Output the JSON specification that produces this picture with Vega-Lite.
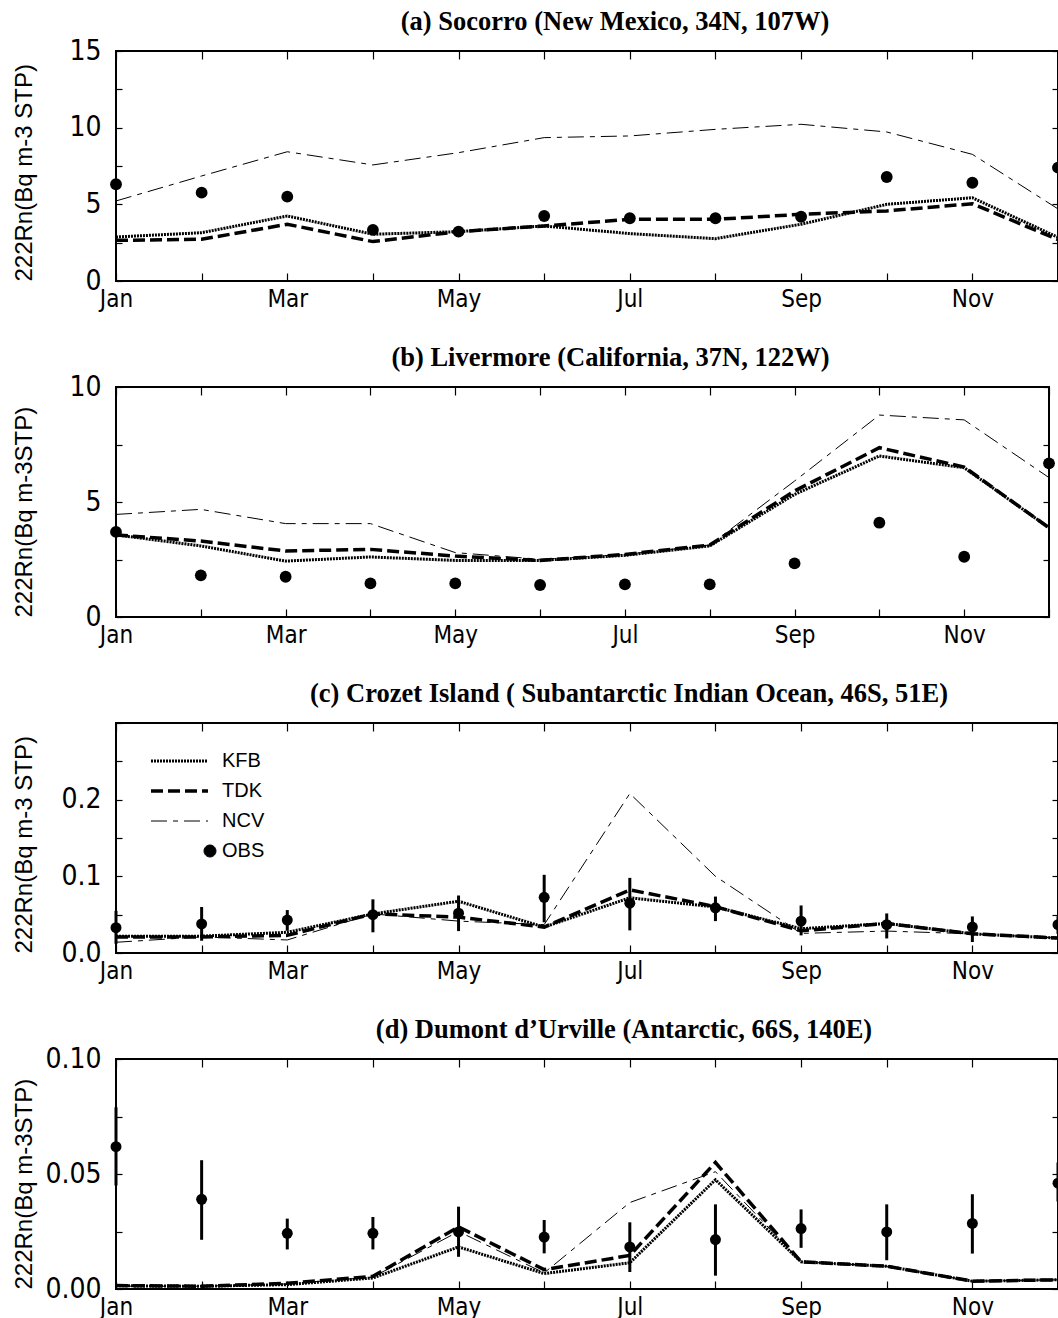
{
  "$schema": "https://vega.github.io/schema/vega-lite/v6.json",
  "background": "white",
  "padding": {"left": 11, "top": 7, "right": 0, "bottom": 0},
  "spacing": 31,
  "resolve": {
    "scale": {"shape": "independent", "strokeDash": "independent", "strokeWidth": "independent"},
    "legend": {"shape": "independent", "strokeDash": "independent", "strokeWidth": "independent"}
  },
  "datasets": {
    "d": [
      {"panel":"a","series":"KFB","month":1,"value":2.87},{"panel":"a","series":"KFB","month":2,"value":3.15},{"panel":"a","series":"KFB","month":3,"value":4.24},{"panel":"a","series":"KFB","month":4,"value":3.05},{"panel":"a","series":"KFB","month":5,"value":3.22},{"panel":"a","series":"KFB","month":6,"value":3.59},{"panel":"a","series":"KFB","month":7,"value":3.09},{"panel":"a","series":"KFB","month":8,"value":2.76},{"panel":"a","series":"KFB","month":9,"value":3.7},{"panel":"a","series":"KFB","month":10,"value":5.0},{"panel":"a","series":"KFB","month":11,"value":5.43},{"panel":"a","series":"KFB","month":12,"value":2.85},
      {"panel":"a","series":"TDK","month":1,"value":2.65},{"panel":"a","series":"TDK","month":2,"value":2.72},{"panel":"a","series":"TDK","month":3,"value":3.7},{"panel":"a","series":"TDK","month":4,"value":2.57},{"panel":"a","series":"TDK","month":5,"value":3.22},{"panel":"a","series":"TDK","month":6,"value":3.59},{"panel":"a","series":"TDK","month":7,"value":4.02},{"panel":"a","series":"TDK","month":8,"value":4.02},{"panel":"a","series":"TDK","month":9,"value":4.35},{"panel":"a","series":"TDK","month":10,"value":4.57},{"panel":"a","series":"TDK","month":11,"value":5.04},{"panel":"a","series":"TDK","month":12,"value":2.7},
      {"panel":"a","series":"NCV","month":1,"value":5.22},{"panel":"a","series":"NCV","month":2,"value":6.85},{"panel":"a","series":"NCV","month":3,"value":8.43},{"panel":"a","series":"NCV","month":4,"value":7.57},{"panel":"a","series":"NCV","month":5,"value":8.37},{"panel":"a","series":"NCV","month":6,"value":9.35},{"panel":"a","series":"NCV","month":7,"value":9.46},{"panel":"a","series":"NCV","month":8,"value":9.89},{"panel":"a","series":"NCV","month":9,"value":10.22},{"panel":"a","series":"NCV","month":10,"value":9.72},{"panel":"a","series":"NCV","month":11,"value":8.26},{"panel":"a","series":"NCV","month":12,"value":4.7},
      {"panel":"a","series":"OBS","month":1,"value":6.31},{"panel":"a","series":"OBS","month":2,"value":5.76},{"panel":"a","series":"OBS","month":3,"value":5.5},{"panel":"a","series":"OBS","month":4,"value":3.33},{"panel":"a","series":"OBS","month":5,"value":3.22},{"panel":"a","series":"OBS","month":6,"value":4.24},{"panel":"a","series":"OBS","month":7,"value":4.09},{"panel":"a","series":"OBS","month":8,"value":4.09},{"panel":"a","series":"OBS","month":9,"value":4.19},{"panel":"a","series":"OBS","month":10,"value":6.78},{"panel":"a","series":"OBS","month":11,"value":6.41},{"panel":"a","series":"OBS","month":12,"value":7.39},

      {"panel":"b","series":"KFB","month":1,"value":3.57},{"panel":"b","series":"KFB","month":2,"value":3.09},{"panel":"b","series":"KFB","month":3,"value":2.43},{"panel":"b","series":"KFB","month":4,"value":2.61},{"panel":"b","series":"KFB","month":5,"value":2.46},{"panel":"b","series":"KFB","month":6,"value":2.46},{"panel":"b","series":"KFB","month":7,"value":2.68},{"panel":"b","series":"KFB","month":8,"value":3.09},{"panel":"b","series":"KFB","month":9,"value":5.33},{"panel":"b","series":"KFB","month":10,"value":7.0},{"panel":"b","series":"KFB","month":11,"value":6.49},{"panel":"b","series":"KFB","month":12,"value":3.88},
      {"panel":"b","series":"TDK","month":1,"value":3.57},{"panel":"b","series":"TDK","month":2,"value":3.3},{"panel":"b","series":"TDK","month":3,"value":2.87},{"panel":"b","series":"TDK","month":4,"value":2.94},{"panel":"b","series":"TDK","month":5,"value":2.65},{"panel":"b","series":"TDK","month":6,"value":2.46},{"panel":"b","series":"TDK","month":7,"value":2.72},{"panel":"b","series":"TDK","month":8,"value":3.13},{"panel":"b","series":"TDK","month":9,"value":5.48},{"panel":"b","series":"TDK","month":10,"value":7.36},{"panel":"b","series":"TDK","month":11,"value":6.52},{"panel":"b","series":"TDK","month":12,"value":3.88},
      {"panel":"b","series":"NCV","month":1,"value":4.46},{"panel":"b","series":"NCV","month":2,"value":4.68},{"panel":"b","series":"NCV","month":3,"value":4.06},{"panel":"b","series":"NCV","month":4,"value":4.06},{"panel":"b","series":"NCV","month":5,"value":2.8},{"panel":"b","series":"NCV","month":6,"value":2.51},{"panel":"b","series":"NCV","month":7,"value":2.72},{"panel":"b","series":"NCV","month":8,"value":3.13},{"panel":"b","series":"NCV","month":9,"value":5.91},{"panel":"b","series":"NCV","month":10,"value":8.78},{"panel":"b","series":"NCV","month":11,"value":8.57},{"panel":"b","series":"NCV","month":12,"value":6.06},
      {"panel":"b","series":"OBS","month":1,"value":3.7},{"panel":"b","series":"OBS","month":2,"value":1.81},{"panel":"b","series":"OBS","month":3,"value":1.75},{"panel":"b","series":"OBS","month":4,"value":1.46},{"panel":"b","series":"OBS","month":5,"value":1.46},{"panel":"b","series":"OBS","month":6,"value":1.39},{"panel":"b","series":"OBS","month":7,"value":1.42},{"panel":"b","series":"OBS","month":8,"value":1.42},{"panel":"b","series":"OBS","month":9,"value":2.33},{"panel":"b","series":"OBS","month":10,"value":4.1},{"panel":"b","series":"OBS","month":11,"value":2.62},{"panel":"b","series":"OBS","month":12,"value":6.68},

      {"panel":"c","series":"KFB","month":1,"value":0.022},{"panel":"c","series":"KFB","month":2,"value":0.022},{"panel":"c","series":"KFB","month":3,"value":0.027},{"panel":"c","series":"KFB","month":4,"value":0.051},{"panel":"c","series":"KFB","month":5,"value":0.0675},{"panel":"c","series":"KFB","month":6,"value":0.0338},{"panel":"c","series":"KFB","month":7,"value":0.072},{"panel":"c","series":"KFB","month":8,"value":0.06},{"panel":"c","series":"KFB","month":9,"value":0.0317},{"panel":"c","series":"KFB","month":10,"value":0.0385},{"panel":"c","series":"KFB","month":11,"value":0.025},{"panel":"c","series":"KFB","month":12,"value":0.0195},
      {"panel":"c","series":"TDK","month":1,"value":0.021},{"panel":"c","series":"TDK","month":2,"value":0.021},{"panel":"c","series":"TDK","month":3,"value":0.023},{"panel":"c","series":"TDK","month":4,"value":0.051},{"panel":"c","series":"TDK","month":5,"value":0.0468},{"panel":"c","series":"TDK","month":6,"value":0.0338},{"panel":"c","series":"TDK","month":7,"value":0.0823},{"panel":"c","series":"TDK","month":8,"value":0.0605},{"panel":"c","series":"TDK","month":9,"value":0.029},{"panel":"c","series":"TDK","month":10,"value":0.0385},{"panel":"c","series":"TDK","month":11,"value":0.025},{"panel":"c","series":"TDK","month":12,"value":0.0195},
      {"panel":"c","series":"NCV","month":1,"value":0.014},{"panel":"c","series":"NCV","month":2,"value":0.021},{"panel":"c","series":"NCV","month":3,"value":0.017},{"panel":"c","series":"NCV","month":4,"value":0.051},{"panel":"c","series":"NCV","month":5,"value":0.0416},{"panel":"c","series":"NCV","month":6,"value":0.037},{"panel":"c","series":"NCV","month":7,"value":0.208},{"panel":"c","series":"NCV","month":8,"value":0.1},{"panel":"c","series":"NCV","month":9,"value":0.0256},{"panel":"c","series":"NCV","month":10,"value":0.0286},{"panel":"c","series":"NCV","month":11,"value":0.025},{"panel":"c","series":"NCV","month":12,"value":0.0195},
      {"panel":"c","series":"OBS","month":1,"value":0.033,"lo":0.012,"hi":0.055},{"panel":"c","series":"OBS","month":2,"value":0.038,"lo":0.016,"hi":0.06},{"panel":"c","series":"OBS","month":3,"value":0.043,"lo":0.029,"hi":0.056},{"panel":"c","series":"OBS","month":4,"value":0.05,"lo":0.027,"hi":0.07},{"panel":"c","series":"OBS","month":5,"value":0.052,"lo":0.0286,"hi":0.075},{"panel":"c","series":"OBS","month":6,"value":0.0727,"lo":0.04,"hi":0.102},{"panel":"c","series":"OBS","month":7,"value":0.065,"lo":0.0295,"hi":0.098},{"panel":"c","series":"OBS","month":8,"value":0.059,"lo":0.0416,"hi":0.0736},{"panel":"c","series":"OBS","month":9,"value":0.0416,"lo":0.023,"hi":0.062},{"panel":"c","series":"OBS","month":10,"value":0.0369,"lo":0.019,"hi":0.0516},{"panel":"c","series":"OBS","month":11,"value":0.0338,"lo":0.0143,"hi":0.0477},{"panel":"c","series":"OBS","month":12,"value":0.0369,"lo":0.025,"hi":0.048},

      {"panel":"d","series":"KFB","month":1,"value":0.0014},{"panel":"d","series":"KFB","month":2,"value":0.0012},{"panel":"d","series":"KFB","month":3,"value":0.0019},{"panel":"d","series":"KFB","month":4,"value":0.0048},{"panel":"d","series":"KFB","month":5,"value":0.0183},{"panel":"d","series":"KFB","month":6,"value":0.0067},{"panel":"d","series":"KFB","month":7,"value":0.0114},{"panel":"d","series":"KFB","month":8,"value":0.0475},{"panel":"d","series":"KFB","month":9,"value":0.0118},{"panel":"d","series":"KFB","month":10,"value":0.0099},{"panel":"d","series":"KFB","month":11,"value":0.0034},{"panel":"d","series":"KFB","month":12,"value":0.004},
      {"panel":"d","series":"TDK","month":1,"value":0.0015},{"panel":"d","series":"TDK","month":2,"value":0.0012},{"panel":"d","series":"TDK","month":3,"value":0.0025},{"panel":"d","series":"TDK","month":4,"value":0.0055},{"panel":"d","series":"TDK","month":5,"value":0.027},{"panel":"d","series":"TDK","month":6,"value":0.0084},{"panel":"d","series":"TDK","month":7,"value":0.0146},{"panel":"d","series":"TDK","month":8,"value":0.055},{"panel":"d","series":"TDK","month":9,"value":0.0118},{"panel":"d","series":"TDK","month":10,"value":0.0099},{"panel":"d","series":"TDK","month":11,"value":0.0034},{"panel":"d","series":"TDK","month":12,"value":0.004},
      {"panel":"d","series":"NCV","month":1,"value":0.0012},{"panel":"d","series":"NCV","month":2,"value":0.0012},{"panel":"d","series":"NCV","month":3,"value":0.0022},{"panel":"d","series":"NCV","month":4,"value":0.0052},{"panel":"d","series":"NCV","month":5,"value":0.025},{"panel":"d","series":"NCV","month":6,"value":0.007},{"panel":"d","series":"NCV","month":7,"value":0.0376},{"panel":"d","series":"NCV","month":8,"value":0.051},{"panel":"d","series":"NCV","month":9,"value":0.0118},{"panel":"d","series":"NCV","month":10,"value":0.0099},{"panel":"d","series":"NCV","month":11,"value":0.0034},{"panel":"d","series":"NCV","month":12,"value":0.004},
      {"panel":"d","series":"OBS","month":1,"value":0.0619,"lo":0.045,"hi":0.079},{"panel":"d","series":"OBS","month":2,"value":0.039,"lo":0.0214,"hi":0.056},{"panel":"d","series":"OBS","month":3,"value":0.0242,"lo":0.0172,"hi":0.0306},{"panel":"d","series":"OBS","month":4,"value":0.0242,"lo":0.0172,"hi":0.0313},{"panel":"d","series":"OBS","month":5,"value":0.0248,"lo":0.014,"hi":0.0358},{"panel":"d","series":"OBS","month":6,"value":0.0226,"lo":0.0155,"hi":0.03},{"panel":"d","series":"OBS","month":7,"value":0.0183,"lo":0.0074,"hi":0.029},{"panel":"d","series":"OBS","month":8,"value":0.0215,"lo":0.0058,"hi":0.0368},{"panel":"d","series":"OBS","month":9,"value":0.0263,"lo":0.0179,"hi":0.0346},{"panel":"d","series":"OBS","month":10,"value":0.0248,"lo":0.0125,"hi":0.0368},{"panel":"d","series":"OBS","month":11,"value":0.0285,"lo":0.0154,"hi":0.0412},{"panel":"d","series":"OBS","month":12,"value":0.046,"lo":0.038,"hi":0.055}
    ]
  },
  "config": {
    "view": {"stroke": "black", "strokeWidth": 2},
    "axis": {"domain": false, "grid": false, "tickColor": "black", "tickWidth": 1.2, "labelColor": "black", "labelFont": "DejaVu Sans Condensed, Liberation Sans", "titleFont": "Liberation Sans", "titleFontWeight": "normal", "titleColor": "black", "titleFontSize": 24, "labelFlush": false, "labelOverlap": false},
    "axisX": {"labelFontSize": 24, "labelPadding": 14, "tickSize": -8},
    "axisY": {"labelFontSize": 28, "labelPadding": 21, "tickSize": -6},
    "title": {"font": "Liberation Serif", "fontSize": 26.5, "fontWeight": "bold", "color": "black", "offset": 2}
  },
  "vconcat": [
    {
      "width": 942, "height": 230,
      "title": {"text": "(a) Socorro (New Mexico, 34N, 107W)", "dx": 28},
      "layer": [
        {"data": {"name": "d"}, "transform": [{"filter": "datum.panel == 'a' && datum.series == 'NCV'"}],
         "mark": {"type": "line", "color": "black", "strokeWidth": 1, "strokeDash": [16, 6, 5, 6], "clip": true},
         "encoding": {
           "x": {"field": "month", "type": "quantitative", "scale": {"domain": [1, 12], "nice": false},
                 "axis": {"orient": "bottom", "title": null, "values": [1,2,3,4,5,6,7,8,9,10,11,12], "labelExpr": "['Jan','','Mar','','May','','Jul','','Sep','','Nov',''][datum.value-1]"}},
           "y": {"field": "value", "type": "quantitative", "scale": {"domain": [0, 15], "nice": false},
                 "axis": {"orient": "left", "title": "222Rn(Bq m-3 STP)", "titleX": -80, "titleAnchor": "start", "values": [0, 2.5, 5, 7.5, 10, 12.5, 15], "labelExpr": "datum.value % 5 == 0 ? datum.label : ''"}}
         }},
        {"data": {"name": "d"}, "transform": [{"filter": "datum.panel == 'a' && datum.series == 'TDK'"}],
         "mark": {"type": "line", "color": "black", "strokeWidth": 3.5, "strokeDash": [12, 5], "clip": true},
         "encoding": {"x": {"field": "month", "type": "quantitative", "axis": null}, "y": {"field": "value", "type": "quantitative", "axis": null}}},
        {"data": {"name": "d"}, "transform": [{"filter": "datum.panel == 'a' && datum.series == 'KFB'"}],
         "mark": {"type": "line", "color": "black", "strokeWidth": 3, "strokeDash": [2, 1], "clip": true},
         "encoding": {"x": {"field": "month", "type": "quantitative", "axis": null}, "y": {"field": "value", "type": "quantitative", "axis": null}}},
        {"data": {"name": "d"}, "transform": [{"filter": "datum.panel == 'a' && datum.series == 'OBS' && datum.month < 12"}],
         "mark": {"type": "point", "filled": true, "color": "black", "opacity": 1, "size": 140},
         "encoding": {
           "x": {"field": "month", "type": "quantitative", "axis": {"orient": "top", "title": null, "labels": false, "values": [1,2,3,4,5,6,7,8,9,10,11,12]}},
           "y": {"field": "value", "type": "quantitative", "axis": {"orient": "right", "title": null, "labels": false, "values": [0, 2.5, 5, 7.5, 10, 12.5, 15]}}
         }},
        {"data": {"name": "d"}, "transform": [{"filter": "datum.panel == 'a' && datum.series == 'OBS' && datum.month == 12"}],
         "mark": {"type": "point", "filled": true, "color": "black", "opacity": 1, "size": 140, "clip": true},
         "encoding": {"x": {"field": "month", "type": "quantitative", "axis": null}, "y": {"field": "value", "type": "quantitative", "axis": null}}}
      ]
    },
    {
      "width": 933, "height": 230,
      "title": {"text": "(b) Livermore (California, 37N, 122W)", "dx": 28},
      "layer": [
        {"data": {"name": "d"}, "transform": [{"filter": "datum.panel == 'b' && datum.series == 'NCV'"}],
         "mark": {"type": "line", "color": "black", "strokeWidth": 1, "strokeDash": [16, 6, 5, 6], "clip": true},
         "encoding": {
           "x": {"field": "month", "type": "quantitative", "scale": {"domain": [1, 12], "nice": false},
                 "axis": {"orient": "bottom", "title": null, "values": [1,2,3,4,5,6,7,8,9,10,11,12], "labelExpr": "['Jan','','Mar','','May','','Jul','','Sep','','Nov',''][datum.value-1]"}},
           "y": {"field": "value", "type": "quantitative", "scale": {"domain": [0, 10], "nice": false},
                 "axis": {"orient": "left", "title": "222Rn(Bq m-3STP)", "titleX": -80, "titleAnchor": "start", "values": [0, 2.5, 5, 7.5, 10], "labelExpr": "datum.value % 5 == 0 ? datum.label : ''"}}
         }},
        {"data": {"name": "d"}, "transform": [{"filter": "datum.panel == 'b' && datum.series == 'TDK'"}],
         "mark": {"type": "line", "color": "black", "strokeWidth": 3.5, "strokeDash": [12, 5], "clip": true},
         "encoding": {"x": {"field": "month", "type": "quantitative", "axis": null}, "y": {"field": "value", "type": "quantitative", "axis": null}}},
        {"data": {"name": "d"}, "transform": [{"filter": "datum.panel == 'b' && datum.series == 'KFB'"}],
         "mark": {"type": "line", "color": "black", "strokeWidth": 3, "strokeDash": [2, 1], "clip": true},
         "encoding": {"x": {"field": "month", "type": "quantitative", "axis": null}, "y": {"field": "value", "type": "quantitative", "axis": null}}},
        {"data": {"name": "d"}, "transform": [{"filter": "datum.panel == 'b' && datum.series == 'OBS'"}],
         "mark": {"type": "point", "filled": true, "color": "black", "opacity": 1, "size": 140},
         "encoding": {
           "x": {"field": "month", "type": "quantitative", "axis": {"orient": "top", "title": null, "labels": false, "values": [1,2,3,4,5,6,7,8,9,10,11,12]}},
           "y": {"field": "value", "type": "quantitative", "axis": {"orient": "right", "title": null, "labels": false, "values": [0, 2.5, 5, 7.5, 10]}}
         }}
      ]
    },
    {
      "width": 942, "height": 230,
      "title": {"text": "(c) Crozet Island ( Subantarctic Indian Ocean, 46S, 51E)", "dx": 42},
      "layer": [
        {"data": {"name": "d"}, "transform": [{"filter": "datum.panel == 'c' && datum.series == 'NCV'"}],
         "mark": {"type": "line", "color": "black", "strokeWidth": 1, "strokeDash": [16, 6, 5, 6], "clip": true},
         "encoding": {
           "x": {"field": "month", "type": "quantitative", "scale": {"domain": [1, 12], "nice": false},
                 "axis": {"orient": "bottom", "title": null, "values": [1,2,3,4,5,6,7,8,9,10,11,12], "labelExpr": "['Jan','','Mar','','May','','Jul','','Sep','','Nov',''][datum.value-1]"}},
           "y": {"field": "value", "type": "quantitative", "scale": {"domain": [0, 0.3], "nice": false},
                 "axis": {"orient": "left", "title": "222Rn(Bq m-3 STP)", "titleX": -80, "titleAnchor": "start", "format": ".1f", "values": [0, 0.05, 0.1, 0.15, 0.2, 0.25, 0.3], "labelExpr": "round(datum.value * 100) % 10 == 0 && datum.value < 0.29 ? datum.label : ''"}}
         }},
        {"data": {"name": "d"}, "transform": [{"filter": "datum.panel == 'c' && datum.series == 'TDK'"}],
         "mark": {"type": "line", "color": "black", "strokeWidth": 3.5, "strokeDash": [12, 5], "clip": true},
         "encoding": {"x": {"field": "month", "type": "quantitative", "axis": null}, "y": {"field": "value", "type": "quantitative", "axis": null}}},
        {"data": {"name": "d"}, "transform": [{"filter": "datum.panel == 'c' && datum.series == 'KFB'"}],
         "mark": {"type": "line", "color": "black", "strokeWidth": 3, "strokeDash": [2, 1], "clip": true},
         "encoding": {"x": {"field": "month", "type": "quantitative", "axis": null}, "y": {"field": "value", "type": "quantitative", "axis": null}}},
        {"data": {"name": "d"}, "transform": [{"filter": "datum.panel == 'c' && datum.series == 'OBS'"}],
         "mark": {"type": "rule", "color": "black", "strokeWidth": 3},
         "encoding": {"x": {"field": "month", "type": "quantitative", "axis": null}, "y": {"field": "lo", "type": "quantitative", "axis": null}, "y2": {"field": "hi"}}},
        {"data": {"name": "d"}, "transform": [{"filter": "datum.panel == 'c' && datum.series == 'OBS' && datum.month < 12"}],
         "mark": {"type": "point", "filled": true, "color": "black", "opacity": 1, "size": 120},
         "encoding": {
           "x": {"field": "month", "type": "quantitative", "axis": {"orient": "top", "title": null, "labels": false, "values": [1,2,3,4,5,6,7,8,9,10,11,12]}},
           "y": {"field": "value", "type": "quantitative", "axis": {"orient": "right", "title": null, "labels": false, "values": [0, 0.05, 0.1, 0.15, 0.2, 0.25, 0.3]}}
         }},
        {"data": {"name": "d"}, "transform": [{"filter": "datum.panel == 'c' && datum.series == 'OBS' && datum.month == 12"}],
         "mark": {"type": "point", "filled": true, "color": "black", "opacity": 1, "size": 120, "clip": true},
         "encoding": {"x": {"field": "month", "type": "quantitative", "axis": null}, "y": {"field": "value", "type": "quantitative", "axis": null}}},
        {"data": {"values": [{"series": "KFB"}, {"series": "TDK"}, {"series": "NCV"}, {"series": "OBS"}]},
         "mark": {"type": "point", "filled": true, "fill": "black", "stroke": "black", "opacity": 0, "size": 3249, "clip": true},
         "encoding": {
           "shape": {"field": "series", "type": "nominal",
                     "scale": {"domain": ["KFB", "TDK", "NCV", "OBS"], "range": ["M-1,0L1,0", "M-1,0L1,0", "M-1,0L1,0", "M0.86,0A0.21,0.21 0 1,1 1.28,0A0.21,0.21 0 1,1 0.86,0Z"]},
                     "legend": {"title": null, "orient": "none", "legendX": 33, "legendY": 26, "symbolSize": 3249, "clipHeight": 24, "rowPadding": 6, "labelFont": "Liberation Sans", "labelFontSize": 20, "labelOffset": 12, "labelColor": "black",
                                "encode": {"symbols": {"update": {"fill": {"value": "black"}, "stroke": {"value": "black"}, "opacity": {"value": 1}}}}}},
           "strokeDash": {"field": "series", "type": "nominal", "scale": {"domain": ["KFB", "TDK", "NCV", "OBS"], "range": [[2, 1], [12, 5], [16, 6, 5, 6], [1, 0]]}},
           "strokeWidth": {"field": "series", "type": "nominal", "scale": {"type": "ordinal", "domain": ["KFB", "TDK", "NCV", "OBS"], "range": [3, 3.5, 1, 1]}}
         }}
      ]
    },
    {
      "width": 942, "height": 230,
      "title": {"text": "(d) Dumont d’Urville (Antarctic, 66S, 140E)", "dx": 37},
      "layer": [
        {"data": {"name": "d"}, "transform": [{"filter": "datum.panel == 'd' && datum.series == 'NCV'"}],
         "mark": {"type": "line", "color": "black", "strokeWidth": 1, "strokeDash": [16, 6, 5, 6], "clip": true},
         "encoding": {
           "x": {"field": "month", "type": "quantitative", "scale": {"domain": [1, 12], "nice": false},
                 "axis": {"orient": "bottom", "title": null, "values": [1,2,3,4,5,6,7,8,9,10,11,12], "labelExpr": "['Jan','','Mar','','May','','Jul','','Sep','','Nov',''][datum.value-1]"}},
           "y": {"field": "value", "type": "quantitative", "scale": {"domain": [0, 0.1], "nice": false},
                 "axis": {"orient": "left", "title": "222Rn(Bq m-3STP)", "titleX": -80, "titleAnchor": "start", "format": ".2f", "values": [0, 0.025, 0.05, 0.075, 0.1], "labelExpr": "round(datum.value * 1000) % 50 == 0 ? datum.label : ''"}}
         }},
        {"data": {"name": "d"}, "transform": [{"filter": "datum.panel == 'd' && datum.series == 'TDK'"}],
         "mark": {"type": "line", "color": "black", "strokeWidth": 3.5, "strokeDash": [12, 5], "clip": true},
         "encoding": {"x": {"field": "month", "type": "quantitative", "axis": null}, "y": {"field": "value", "type": "quantitative", "axis": null}}},
        {"data": {"name": "d"}, "transform": [{"filter": "datum.panel == 'd' && datum.series == 'KFB'"}],
         "mark": {"type": "line", "color": "black", "strokeWidth": 3, "strokeDash": [2, 1], "clip": true},
         "encoding": {"x": {"field": "month", "type": "quantitative", "axis": null}, "y": {"field": "value", "type": "quantitative", "axis": null}}},
        {"data": {"name": "d"}, "transform": [{"filter": "datum.panel == 'd' && datum.series == 'OBS'"}],
         "mark": {"type": "rule", "color": "black", "strokeWidth": 3},
         "encoding": {"x": {"field": "month", "type": "quantitative", "axis": null}, "y": {"field": "lo", "type": "quantitative", "axis": null}, "y2": {"field": "hi"}}},
        {"data": {"name": "d"}, "transform": [{"filter": "datum.panel == 'd' && datum.series == 'OBS' && datum.month < 12"}],
         "mark": {"type": "point", "filled": true, "color": "black", "opacity": 1, "size": 120},
         "encoding": {
           "x": {"field": "month", "type": "quantitative", "axis": {"orient": "top", "title": null, "labels": false, "values": [1,2,3,4,5,6,7,8,9,10,11,12]}},
           "y": {"field": "value", "type": "quantitative", "axis": {"orient": "right", "title": null, "labels": false, "values": [0, 0.025, 0.05, 0.075, 0.1]}}
         }},
        {"data": {"name": "d"}, "transform": [{"filter": "datum.panel == 'd' && datum.series == 'OBS' && datum.month == 12"}],
         "mark": {"type": "point", "filled": true, "color": "black", "opacity": 1, "size": 120, "clip": true},
         "encoding": {"x": {"field": "month", "type": "quantitative", "axis": null}, "y": {"field": "value", "type": "quantitative", "axis": null}}}
      ]
    }
  ]
}
